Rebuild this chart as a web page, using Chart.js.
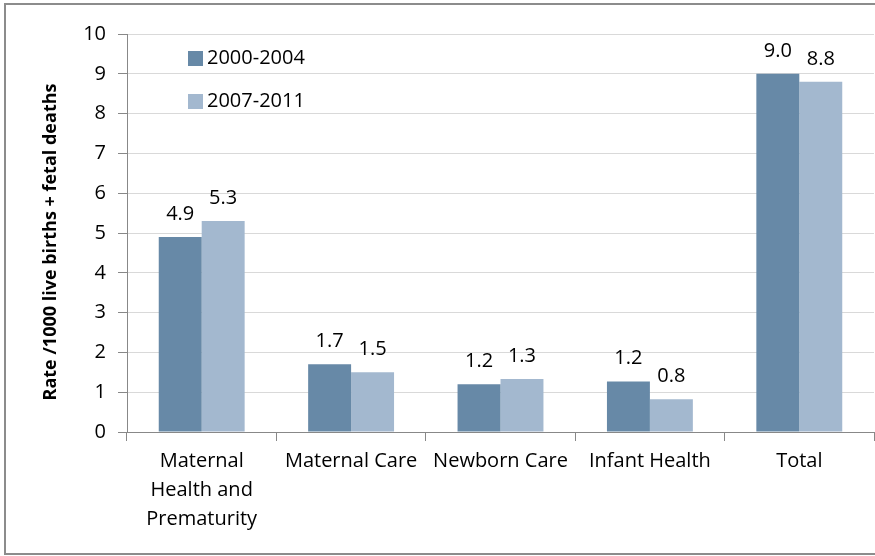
<!DOCTYPE html>
<html>
<head>
<meta charset="utf-8">
<script src="https://cdn.jsdelivr.net/npm/chart.js@4/dist/chart.umd.min.js"></script>
<style>
    html, body { margin: 0; padding: 0; background: #fff; }
    #wrap { width: 875px; height: 556px; position: relative; }
</style>
</head>
<body>
<div id="wrap"><canvas id="chart" width="875" height="556"></canvas></div>
<script>
const categories = [['Maternal', 'Health and', 'Prematurity'], 'Maternal Care', 'Newborn Care', 'Infant Health', 'Total'];
const seriesNames = ['2000-2004', '2007-2011'];
const values2000 = [4.9, 1.7, 1.2, 1.27, 9.0];
const values2007 = [5.3, 1.5, 1.33, 0.82, 8.8];
const labels2000 = ['4.9', '1.7', '1.2', '1.2', '9.0'];
const labels2007 = ['5.3', '1.5', '1.3', '0.8', '8.8'];
const yTitle = 'Rate /1000 live births + fetal deaths';
const colors = ['#6789a7', '#a3b8cf'];

const FONT = '"Open Sans", "Liberation Sans", sans-serif';

// value labels above the bars
const barLabels = {
    id: 'barLabels',
    afterDatasetsDraw(chart) {
        const ctx = chart.ctx;
        const texts = [labels2000, labels2007];
        ctx.save();
        ctx.font = '20px ' + FONT;
        ctx.fillStyle = '#000';
        ctx.textAlign = 'center';
        ctx.textBaseline = 'alphabetic';
        chart.data.datasets.forEach((ds, d) => {
            chart.getDatasetMeta(d).data.forEach((bar, i) => {
                ctx.fillText(texts[d][i], bar.x, bar.y - 17);
            });
        });
        ctx.restore();
    }
};

// legend inside the plot, y title, outer frame
const extras = {
    id: 'extras',
    afterDraw(chart) {
        const ctx = chart.ctx;
        ctx.save();
        ctx.strokeStyle = '#8c8c8c';
        ctx.lineWidth = 2;
        ctx.strokeRect(5, 4, 880, 550);
        ctx.font = '20px ' + FONT;
        ctx.textBaseline = 'middle';
        ctx.textAlign = 'left';
        chart.data.datasets.forEach((ds, d) => {
            const y = 58 + d * 43;
            ctx.fillStyle = ds.backgroundColor;
            ctx.fillRect(188, y - 7, 15, 15);
            ctx.fillStyle = '#000';
            ctx.fillText(ds.label, 207, y);
        });
        ctx.translate(51, 242);
        ctx.rotate(-Math.PI / 2);
        ctx.textAlign = 'center';
        ctx.font = 'bold 18px ' + FONT;
        ctx.fillText(yTitle, 0, 0);
        ctx.restore();
    }
};

new Chart(document.getElementById('chart'), {
    type: 'bar',
    data: {
        labels: categories,
        datasets: [
            { label: seriesNames[0], data: values2000, backgroundColor: colors[0] },
            { label: seriesNames[1], data: values2007, backgroundColor: colors[1] }
        ]
    },
    options: {
        responsive: false,
        animation: false,
        events: [],
        layout: { padding: { top: 34, right: 1, left: 0, bottom: 0 } },
        datasets: { bar: { categoryPercentage: 0.575, barPercentage: 1.0 } },
        plugins: {
            legend: { display: false },
            tooltip: { enabled: false }
        },
        scales: {
            x: {
                afterFit(scale) { scale.height = 124; },
                grid: {
                    offset: true,
                    drawOnChartArea: false,
                    tickLength: 9,
                    color: '#888'
                },
                border: { color: '#888', width: 1 },
                ticks: {
                    font: { family: FONT, size: 20, lineHeight: 1.45 },
                    color: '#000',
                    padding: 6,
                    maxRotation: 0,
                    autoSkip: false
                }
            },
            y: {
                min: 0,
                max: 10,
                afterFit(scale) { scale.width = 127; },
                ticks: {
                    stepSize: 1,
                    font: { family: FONT, size: 20 },
                    color: '#000',
                    padding: 12
                },
                grid: {
                    color: '#d9d9d9',
                    tickColor: '#888',
                    tickLength: 9
                },
                border: { color: '#888', width: 1 }
            }
        }
    },
    plugins: [barLabels, extras]
});
</script>
</body>
</html>
